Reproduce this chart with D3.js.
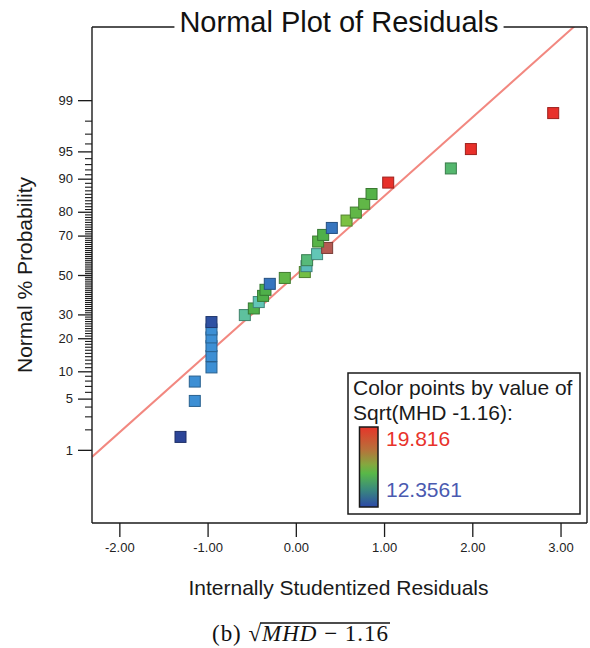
<!DOCTYPE html>
<html>
<head>
<meta charset="utf-8">
<script src="https://cdn.jsdelivr.net/npm/d3@7/dist/d3.min.js"></script>
<style>
  html, body { margin: 0; padding: 0; background: #fff; }
  svg { display: block; font-family: "Liberation Sans", Arial, sans-serif; }
</style>
</head>
<body>
<svg id="chart" width="590" height="648"></svg>
<script>
// ---------------- data ----------------
// Internally studentized residuals (x), in rank order
const residuals = [-1.307, -1.145, -1.145, -0.956, -0.956, -0.956, -0.956, -0.956, -0.956,
  -0.578, -0.476, -0.420, -0.371, -0.344, -0.295, -0.125, 0.102, 0.121, 0.128, 0.241,
  0.355, 0.253, 0.310, 0.408, 0.575, 0.680, 0.775, 0.858, 1.047, 1.757, 1.984, 2.917];
// Normal % probability of each point
const probabilities = [1.56, 4.69, 7.81, 10.94, 14.06, 17.19, 20.31, 23.44, 26.56,
  29.69, 32.81, 35.94, 39.06, 42.19, 45.31, 48.44, 51.56, 54.69, 57.81, 60.94,
  64.06, 67.19, 70.31, 73.44, 76.56, 79.69, 82.81, 85.94, 89.06, 92.19, 95.31, 98.44];
// Sqrt(MHD - 1.16) values used for colouring
const colorValues = [12.36, 13.2, 13.2, 13.2, 13.2, 13.2, 13.2, 13.2, 12.5,
  14.5, 15.2, 14.3, 15.2, 15.2, 12.9, 15.6, 16.0, 14.1, 14.8, 14.3,
  18.3, 15.4, 15.2, 12.9, 16.2, 15.6, 15.6, 15.3, 19.82, 14.9, 19.82, 19.82];
const colorMin = 12.3561, colorMax = 19.816;
// Fitted normal line: z = intercept + slope * residual
const fitIntercept = 0.0, fitSlope = 1.048;
// Axis ticks
const xTicks = [-2, -1, 0, 1, 2, 3];
const yMajorTicks = [1, 5, 10, 20, 30, 50, 70, 80, 90, 95, 99];
const yMajorLabels = ["1", "5", "10", "20", "30", "50", "70", "80", "90", "95", "99"];
const yMinorTicks = d3.range(2, 99).filter(p => !yMajorTicks.includes(p));

// ---------------- helpers ----------------
function probit(p) {
  const a = [-3.969683028665376e+01, 2.209460984245205e+02, -2.759285104469687e+02, 1.383577518672690e+02, -3.066479806614716e+01, 2.506628277459239e+00];
  const b = [-5.447609879822406e+01, 1.615858368580409e+02, -1.556989798598866e+02, 6.680131188771972e+01, -1.328068155288572e+01];
  const c = [-7.784894002430293e-03, -3.223964580411365e-01, -2.400758277161838e+00, -2.549732539343734e+00, 4.374664141464968e+00, 2.938163982698783e+00];
  const d = [7.784695709041462e-03, 3.224671290700398e-01, 2.445134137142996e+00, 3.754408661907416e+00];
  const pl = 0.02425, ph = 1 - pl;
  let q, r;
  if (p < pl) {
    q = Math.sqrt(-2 * Math.log(p));
    return (((((c[0]*q+c[1])*q+c[2])*q+c[3])*q+c[4])*q+c[5]) / ((((d[0]*q+d[1])*q+d[2])*q+d[3])*q+1);
  } else if (p <= ph) {
    q = p - 0.5; r = q * q;
    return (((((a[0]*r+a[1])*r+a[2])*r+a[3])*r+a[4])*r+a[5])*q / (((((b[0]*r+b[1])*r+b[2])*r+b[3])*r+b[4])*r+1);
  } else {
    q = Math.sqrt(-2 * Math.log(1 - p));
    return -(((((c[0]*q+c[1])*q+c[2])*q+c[3])*q+c[4])*q+c[5]) / ((((d[0]*q+d[1])*q+d[2])*q+d[3])*q+1);
  }
}

// ---------------- layout ----------------
const svg = d3.select("#chart");
const L = 92, R = 587, T = 27, B = 523;
const x = d3.scaleLinear().domain([-2.31, 3.30]).range([L, R]);
const yz = d3.scaleLinear().domain([-3.30, 3.30]).range([B, T]);

const color = d3.scaleLinear()
  .domain([12.36, 13.2, 14.3, 15.2, 16.2, 18.3, 19.82])
  .range(["#2c4598", "#3d8fd4", "#62c6b6", "#4fb04a", "#7cc142", "#b55a52", "#e8302a"])
  .clamp(true);

// clip for line
svg.append("clipPath").attr("id", "plotclip")
  .append("rect").attr("x", L).attr("y", T).attr("width", R - L).attr("height", B - T);

// fitted line
const xd = x.domain();
svg.append("line")
  .attr("clip-path", "url(#plotclip)")
  .attr("x1", x(xd[0])).attr("y1", yz(fitIntercept + fitSlope * xd[0]))
  .attr("x2", x(xd[1])).attr("y2", yz(fitIntercept + fitSlope * xd[1]))
  .attr("stroke", "#f28880").attr("stroke-width", 2);

// points
const pts = residuals.map((r, i) => ({ r, p: probabilities[i], v: colorValues[i] }));
const S = 11;
svg.append("g").selectAll("rect.pt").data(pts).join("rect")
  .attr("class", "pt")
  .attr("x", d => x(d.r) - S / 2)
  .attr("y", d => yz(probit(d.p / 100)) - S / 2)
  .attr("width", S).attr("height", S)
  .attr("fill", d => color(d.v))
  .attr("stroke", d => d3.color(color(d.v)).darker(1.1))
  .attr("stroke-width", 1);

// frame
const frame = svg.append("g").attr("stroke", "#1a1a1a").attr("stroke-width", 1.4).attr("fill", "none");
frame.append("line").attr("x1", L).attr("y1", T).attr("x2", L).attr("y2", B);
frame.append("line").attr("x1", L).attr("y1", B).attr("x2", R).attr("y2", B);
frame.append("line").attr("x1", R).attr("y1", T).attr("x2", R).attr("y2", B);

// title
const title = svg.append("text")
  .attr("x", 339).attr("y", 32)
  .attr("text-anchor", "middle")
  .attr("font-size", 29).attr("fill", "#111")
  .text("Normal Plot of Residuals");
const tb = title.node().getBBox();
frame.append("line").attr("x1", L).attr("y1", T).attr("x2", tb.x - 5).attr("y2", T);
frame.append("line").attr("x1", tb.x + tb.width + 5).attr("y1", T).attr("x2", R).attr("y2", T);

// x axis
const xAxis = svg.append("g").attr("transform", `translate(0,${B})`)
  .call(d3.axisBottom(x).tickValues(xTicks).tickSize(14).tickPadding(6).tickFormat(d => d.toFixed(2)));
xAxis.select(".domain").remove();
xAxis.selectAll("line").attr("stroke", "#1a1a1a").attr("stroke-width", 1.3);
xAxis.selectAll("text").attr("font-size", 13).attr("fill", "#222")
  .attr("font-family", "'Liberation Sans', Arial, sans-serif");

// y axis major
const yAxis = svg.append("g").attr("transform", `translate(${L},0)`)
  .call(d3.axisLeft(yz).tickValues(yMajorTicks.map(p => probit(p / 100)))
    .tickSize(14).tickPadding(5).tickFormat((d, i) => yMajorLabels[i]));
yAxis.select(".domain").remove();
yAxis.selectAll("line").attr("stroke", "#1a1a1a").attr("stroke-width", 1.3);
yAxis.selectAll("text").attr("font-size", 13).attr("fill", "#222")
  .attr("font-family", "'Liberation Sans', Arial, sans-serif");

// y axis minor
const yMinor = svg.append("g").attr("transform", `translate(${L},0)`)
  .call(d3.axisLeft(yz).tickValues(yMinorTicks.map(p => probit(p / 100))).tickSize(7).tickFormat(""));
yMinor.select(".domain").remove();
yMinor.selectAll("line").attr("stroke", "#1a1a1a").attr("stroke-width", 1.1);

// axis titles
svg.append("text").attr("transform", "translate(32,275) rotate(-90)")
  .attr("text-anchor", "middle").attr("font-size", 21).attr("fill", "#1a1a1a")
  .text("Normal % Probability");
svg.append("text").attr("x", 338.5).attr("y", 595)
  .attr("text-anchor", "middle").attr("font-size", 21).attr("fill", "#1a1a1a")
  .text("Internally Studentized Residuals");

// legend
const lg = svg.append("g");
lg.append("rect").attr("x", 348).attr("y", 373).attr("width", 232).attr("height", 141)
  .attr("fill", "#fff").attr("stroke", "#1a1a1a").attr("stroke-width", 1.5);
lg.append("text").attr("x", 353).attr("y", 395).attr("font-size", 21).attr("fill", "#1a1a1a")
  .text("Color points by value of");
lg.append("text").attr("x", 353).attr("y", 420).attr("font-size", 21).attr("fill", "#1a1a1a")
  .text("Sqrt(MHD -1.16):");
const grad = svg.append("defs").append("linearGradient").attr("id", "cbar")
  .attr("x1", 0).attr("y1", 0).attr("x2", 0).attr("y2", 1);
[[0, "#e6352a"], [0.28, "#b8703a"], [0.47, "#84a83f"], [0.58, "#58b848"], [0.78, "#3a8a7c"], [1, "#2c48a8"]]
  .forEach(([o, c]) => grad.append("stop").attr("offset", o).attr("stop-color", c));
lg.append("rect").attr("x", 359.5).attr("y", 427).attr("width", 18.5).attr("height", 80)
  .attr("fill", "url(#cbar)").attr("stroke", "#1a1a1a").attr("stroke-width", 1.5);
lg.append("text").attr("x", 386).attr("y", 446).attr("font-size", 21).attr("fill", "#e8332b")
  .text(String(colorMax));
lg.append("text").attr("x", 386).attr("y", 497).attr("font-size", 21).attr("fill", "#4a5ab0")
  .text(String(colorMin));

// caption
const cap = svg.append("text").attr("x", 212).attr("y", 641)
  .attr("font-family", "'Liberation Serif', 'DejaVu Serif', serif").attr("font-size", 23).attr("fill", "#111")
  .attr("textLength", 176).attr("lengthAdjust", "spacing");
cap.append("tspan").text("(b) ");
cap.append("tspan").text("\u221A");
cap.append("tspan").attr("font-style", "italic").text("MHD");
cap.append("tspan").text(" \u2212 1.16");
const cn = cap.node();
const radExt = cn.getExtentOfChar(4);
const endX = cn.getEndPositionOfChar(cn.getNumberOfChars() - 1).x;
svg.append("line")
  .attr("x1", radExt.x + radExt.width - 1).attr("x2", endX + 2)
  .attr("y1", radExt.y + 2).attr("y2", radExt.y + 2)
  .attr("stroke", "#111").attr("stroke-width", 1.3);
</script>
</body>
</html>
